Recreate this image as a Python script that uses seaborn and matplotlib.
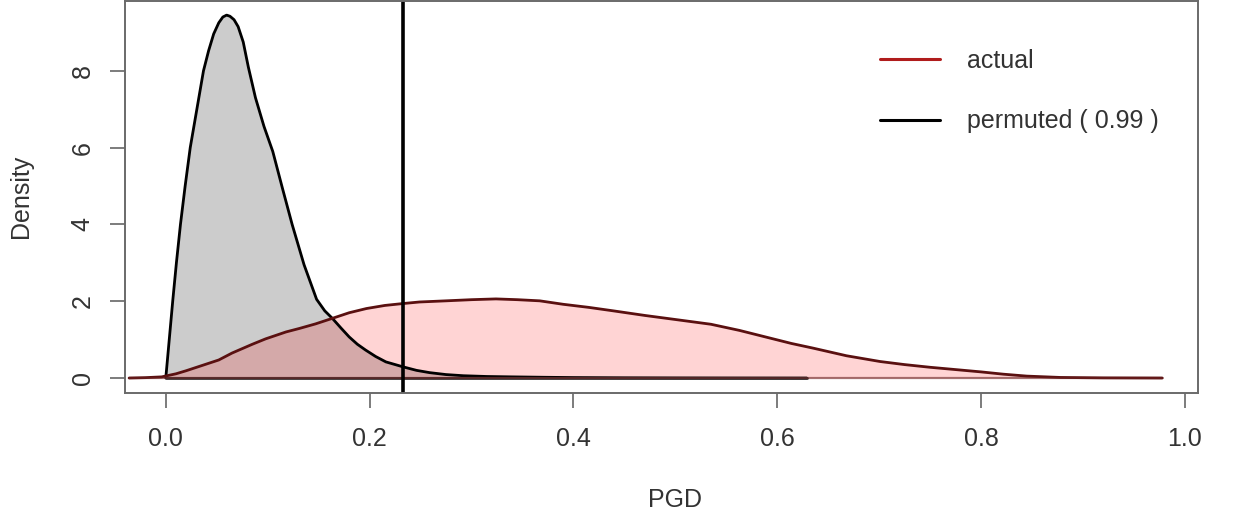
import numpy as np
import pandas as pd
import seaborn as sns
import matplotlib
matplotlib.use('Agg')
from matplotlib import pyplot as plt
from matplotlib.lines import Line2D

# density of permuted PGD
perm_x = [0.0, 0.0035, 0.0069, 0.0105, 0.0144, 0.019, 0.024, 0.0305, 0.037, 0.042,
          0.047, 0.052, 0.056, 0.0597, 0.063, 0.067, 0.071, 0.076, 0.081, 0.088,
          0.0964, 0.105, 0.1144, 0.124, 0.1357, 0.148, 0.156, 0.1636, 0.172, 0.18,
          0.188, 0.196, 0.206, 0.216, 0.233, 0.246, 0.259, 0.275, 0.292, 0.315,
          0.34, 0.37, 0.40, 0.45, 0.50, 0.56, 0.629]
perm_y = [0.0, 1.03, 2.03, 3.02, 4.0, 5.0, 6.0, 7.0, 8.0, 8.52,
          8.96, 9.25, 9.4, 9.45, 9.42, 9.33, 9.15, 8.75, 8.1, 7.3,
          6.55, 5.9, 4.95, 4.0, 2.95, 2.05, 1.75, 1.55, 1.3, 1.07,
          0.88, 0.73, 0.56, 0.42, 0.29, 0.2, 0.14, 0.09, 0.06, 0.04,
          0.03, 0.02, 0.012, 0.006, 0.003, 0.001, 0.0]

# density of actual PGD
act_x = [-0.036, -0.02, -0.004, 0.010, 0.020, 0.036, 0.052, 0.065, 0.085, 0.098,
         0.118, 0.131, 0.147, 0.163, 0.18, 0.197, 0.215, 0.233, 0.249, 0.275,
         0.300, 0.324, 0.345, 0.367, 0.39, 0.415, 0.439, 0.47, 0.504, 0.535,
         0.563, 0.593, 0.614, 0.635, 0.668, 0.701, 0.725, 0.75, 0.775, 0.8,
         0.822, 0.845, 0.878, 0.92, 0.978]
act_y = [0.0, 0.01, 0.03, 0.11, 0.19, 0.33, 0.47, 0.65, 0.88, 1.02,
         1.2, 1.29, 1.41, 1.55, 1.7, 1.81, 1.89, 1.94, 1.98, 2.01,
         2.04, 2.06, 2.04, 2.01, 1.92, 1.84, 1.75, 1.63, 1.51, 1.40,
         1.24, 1.04, 0.9, 0.78, 0.58, 0.43, 0.35, 0.28, 0.22, 0.16,
         0.1, 0.05, 0.015, 0.004, 0.0]

observed = 0.233
legend_labels = ['actual', 'permuted ( 0.99 )']

perm = pd.DataFrame({'PGD': perm_x, 'Density': perm_y})
act = pd.DataFrame({'PGD': act_x, 'Density': act_y})

sns.set_theme(style='white')
plt.rcParams['font.family'] = ['Liberation Sans', 'DejaVu Sans']
txt = '#333333'
fs = 18

fig = plt.figure(figsize=(12.33, 5.14), dpi=100)
ax = fig.add_axes([0.1014, 0.2354, 0.9716 - 0.1014, 0.999 - 0.2354])

# permuted: grey fill + black outline
ax.fill_between(perm['PGD'], perm['Density'], 0, color='black', alpha=0.2, lw=0)
sns.lineplot(data=perm, x='PGD', y='Density', color='black', lw=2.0, ax=ax,
             estimator=None, sort=False)
ax.plot([perm_x[0], perm_x[-1]], [0, 0], color='#333333', lw=2.0)

# actual: pink fill + dark red outline
ax.fill_between(act['PGD'], act['Density'], 0, color='red', alpha=0.17, lw=0)
sns.lineplot(data=act, x='PGD', y='Density', color='#5a1010', lw=2.0, ax=ax,
             estimator=None, sort=False)
ax.plot([act_x[0], act_x[-1]], [0, 0], color='#6a2020', lw=1.6, alpha=0.6)

ax.axvline(observed, color='black', lw=2.6)

ax.set_xlim(-0.04, 1.013)
ax.set_ylim(-0.39, 9.83)
ax.set_xticks([0.0, 0.2, 0.4, 0.6, 0.8, 1.0])
ax.set_xticklabels(['0.0', '0.2', '0.4', '0.6', '0.8', '1.0'])
ax.set_yticks([0, 2, 4, 6, 8])
ax.set_yticklabels(['0', '2', '4', '6', '8'], rotation=90, va='center')
ax.tick_params(axis='both', direction='out', length=10.8, width=1.2, color='#666666',
               labelsize=fs, labelcolor=txt, left=True, bottom=True)
ax.tick_params(axis='y', pad=11)
ax.tick_params(axis='x', pad=14)
for s in ax.spines.values():
    s.set_color('#6a6a6a')
    s.set_linewidth(1.4)

ax.set_xlabel('PGD', fontsize=fs, color=txt)
ax.set_ylabel('Density', fontsize=fs, color=txt, labelpad=27)
ax.xaxis.set_label_coords(0.513, -0.242, transform=ax.transAxes)
ax.xaxis.label.set_va('top')

handles = [Line2D([], [], color='#b01c1c', lw=2.2),
           Line2D([], [], color='black', lw=2.2)]
ax.legend(handles, legend_labels, loc='upper left', bbox_to_anchor=(0.704, 0.877),
          frameon=False, fontsize=fs, handlelength=2.4, handletextpad=1.08,
          labelspacing=1.46, borderpad=0, borderaxespad=0, labelcolor=txt)

plt.savefig('out.png', dpi=100)
